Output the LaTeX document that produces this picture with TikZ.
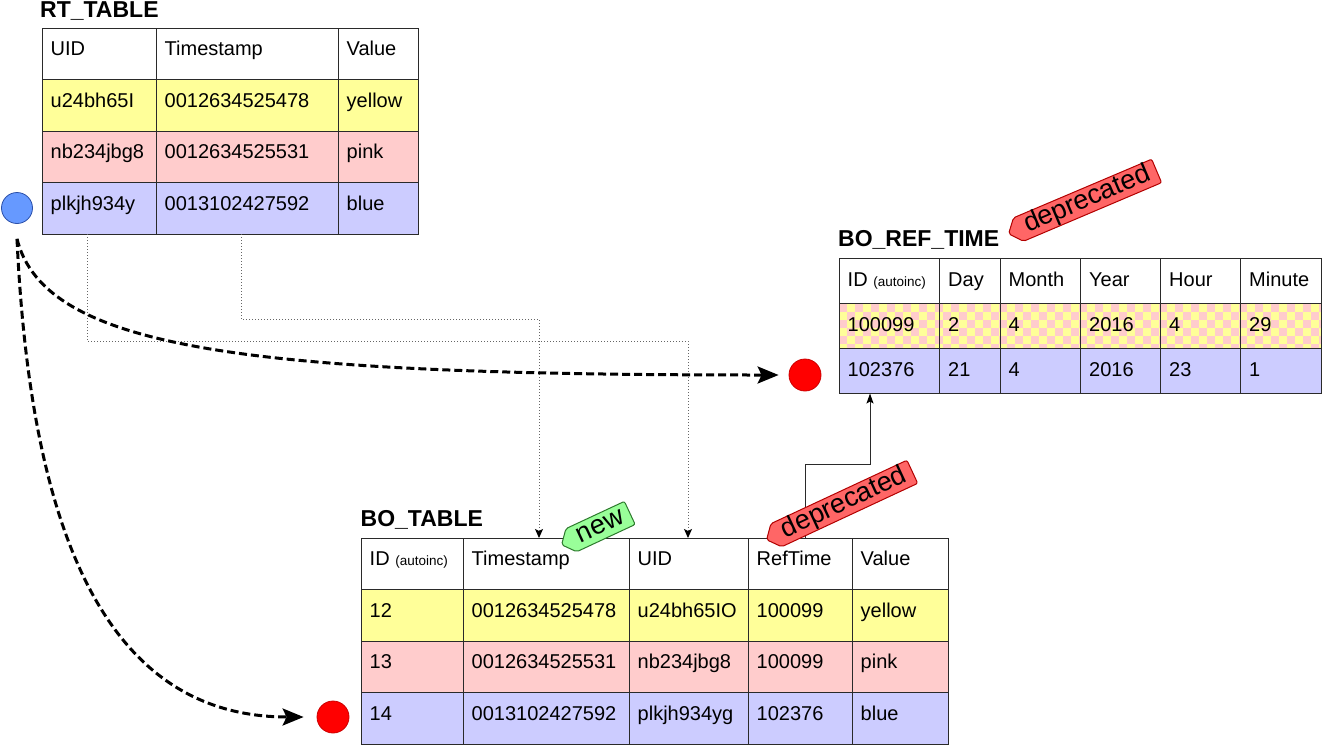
\documentclass[tikz,border=0pt]{standalone}
\usepackage{fontspec}
\setmainfont{Liberation Sans}
\usetikzlibrary{shapes.symbols,arrows.meta,calc}
\definecolor{rowyel}{HTML}{FFFF99}
\definecolor{rowpink}{HTML}{FFCCCC}
\definecolor{rowblue}{HTML}{CCCCFF}
\definecolor{tagred}{HTML}{FF6666}
\definecolor{tagredline}{HTML}{B20000}
\definecolor{taggreen}{HTML}{99FF99}
\definecolor{taggreenline}{HTML}{2D7A2D}
\definecolor{dotgray}{HTML}{666666}
\definecolor{circblue}{HTML}{6699FF}
\definecolor{circblueline}{HTML}{2A4FA8}
\definecolor{gridline}{HTML}{2A2A2A}
\newcommand\autoinc{{\fontsize{13.5}{16}\selectfont (autoinc)}}
\newcommand\tcell[7]{%
  \node[cellbox, fill=#6, minimum width=#4pt, minimum height=#5pt] (#1) at (#2,#3) {};
  \node[celltext] (#1t) at ([shift={(8.5,27.5)}]#1.north west) {#7};}
\tikzset{
  cellbox/.style={draw=gridline, line width=1pt, anchor=north west, inner sep=0pt, outer sep=0pt, rectangle},
  celltext/.style={anchor=base west, inner sep=0pt, font=\fontsize{20}{24}\selectfont},
  tabtitle/.style={anchor=base west, inner sep=0pt, font=\fontsize{23}{27}\selectfont\bfseries},
  tagbox/.style={shape=signal, signal to=west, signal pointer angle=100, rounded corners=2pt,
    line width=1pt, inner xsep=7.5pt, inner ysep=0pt, text height=19.5pt, text depth=6pt,
    anchor=west, font=\fontsize{27}{31}\selectfont},
  tagdep/.style={tagbox, fill=tagred, draw=tagredline},
  tagnew/.style={tagbox, fill=taggreen, draw=taggreenline},
  dot/.style={circle, inner sep=0pt, line width=0.8pt},
  bigdash/.style={line width=3pt, dash pattern=on 8pt off 4pt,
    -{Stealth[length=21pt,width=17pt,inset=4pt]}},
  dotline/.style={draw=dotgray, line width=1pt, dash pattern=on 1pt off 2pt,
    -{Stealth[length=9pt,width=8pt,inset=2pt,color=black]}},
  solidline/.style={draw=gridline, line width=1pt,
    -{Stealth[length=10pt,width=7pt,inset=2pt,color=black]}},
}
\begin{document}
\begin{tikzpicture}[x=1pt,y=-1pt]
\useasboundingbox (0,0) rectangle (1322,745);

% ---------- RT_TABLE ----------
\node[tabtitle] (rttitle) at (40,17) {RT\_TABLE};
\tcell{rt11}{42}{28}{114}{51.5}{white}{UID}
\tcell{rt12}{156}{28}{182}{51.5}{white}{Timestamp}
\tcell{rt13}{338}{28}{80}{51.5}{white}{Value}
\tcell{rt21}{42}{79.5}{114}{51.5}{rowyel}{u24bh65I}
\tcell{rt22}{156}{79.5}{182}{51.5}{rowyel}{0012634525478}
\tcell{rt23}{338}{79.5}{80}{51.5}{rowyel}{yellow}
\tcell{rt31}{42}{131}{114}{51.5}{rowpink}{nb234jbg8}
\tcell{rt32}{156}{131}{182}{51.5}{rowpink}{0012634525531}
\tcell{rt33}{338}{131}{80}{51.5}{rowpink}{pink}
\tcell{rt41}{42}{182.5}{114}{51.5}{rowblue}{plkjh934y}
\tcell{rt42}{156}{182.5}{182}{51.5}{rowblue}{0013102427592}
\tcell{rt43}{338}{182.5}{80}{51.5}{rowblue}{blue}

% ---------- BO_REF_TIME ----------
\node[tabtitle] (brtitle) at (838,246.5) {BO\_REF\_TIME};
\begin{scope}
  \clip (839,303.5) rectangle (1321,348.5);
  \fill[rowyel] (839,303.5) rectangle (1321,348.5);
  \foreach \i in {0,...,30} {
    \foreach \j in {0,1,2} {
      \fill[rowpink] ({839+16*\i},{303.5+16*\j}) rectangle +(8,8);
      \fill[rowpink] ({847+16*\i},{311.5+16*\j}) rectangle +(8,8);
    }
  }
\end{scope}
\tcell{br11}{839}{258.5}{100.5}{45}{white}{ID \autoinc}
\tcell{br12}{939.5}{258.5}{60.5}{45}{white}{Day}
\tcell{br13}{1000}{258.5}{80.5}{45}{white}{Month}
\tcell{br14}{1080.5}{258.5}{80}{45}{white}{Year}
\tcell{br15}{1160.5}{258.5}{80}{45}{white}{Hour}
\tcell{br16}{1240.5}{258.5}{80.5}{45}{white}{Minute}
\tcell{br21}{839}{303.5}{100.5}{45}{none}{100099}
\tcell{br22}{939.5}{303.5}{60.5}{45}{none}{2}
\tcell{br23}{1000}{303.5}{80.5}{45}{none}{4}
\tcell{br24}{1080.5}{303.5}{80}{45}{none}{2016}
\tcell{br25}{1160.5}{303.5}{80}{45}{none}{4}
\tcell{br26}{1240.5}{303.5}{80.5}{45}{none}{29}
\tcell{br31}{839}{348.5}{100.5}{45}{rowblue}{102376}
\tcell{br32}{939.5}{348.5}{60.5}{45}{rowblue}{21}
\tcell{br33}{1000}{348.5}{80.5}{45}{rowblue}{4}
\tcell{br34}{1080.5}{348.5}{80}{45}{rowblue}{2016}
\tcell{br35}{1160.5}{348.5}{80}{45}{rowblue}{23}
\tcell{br36}{1240.5}{348.5}{80.5}{45}{rowblue}{1}

% ---------- BO_TABLE ----------
\node[tabtitle] (botitle) at (360.5,526) {BO\_TABLE};
\tcell{bo11}{361}{538}{102}{51.5}{white}{ID \autoinc}
\tcell{bo12}{463}{538}{166}{51.5}{white}{Timestamp}
\tcell{bo13}{629}{538}{119}{51.5}{white}{UID}
\tcell{bo14}{748}{538}{104}{51.5}{white}{RefTime}
\tcell{bo15}{852}{538}{96}{51.5}{white}{Value}
\tcell{bo21}{361}{589.5}{102}{51.5}{rowyel}{12}
\tcell{bo22}{463}{589.5}{166}{51.5}{rowyel}{0012634525478}
\tcell{bo23}{629}{589.5}{119}{51.5}{rowyel}{u24bh65IO}
\tcell{bo24}{748}{589.5}{104}{51.5}{rowyel}{100099}
\tcell{bo25}{852}{589.5}{96}{51.5}{rowyel}{yellow}
\tcell{bo31}{361}{641}{102}{51.5}{rowpink}{13}
\tcell{bo32}{463}{641}{166}{51.5}{rowpink}{0012634525531}
\tcell{bo33}{629}{641}{119}{51.5}{rowpink}{nb234jbg8}
\tcell{bo34}{748}{641}{104}{51.5}{rowpink}{100099}
\tcell{bo35}{852}{641}{96}{51.5}{rowpink}{pink}
\tcell{bo41}{361}{692.5}{102}{51.5}{rowblue}{14}
\tcell{bo42}{463}{692.5}{166}{51.5}{rowblue}{0013102427592}
\tcell{bo43}{629}{692.5}{119}{51.5}{rowblue}{plkjh934yg}
\tcell{bo44}{748}{692.5}{104}{51.5}{rowblue}{102376}
\tcell{bo45}{852}{692.5}{96}{51.5}{rowblue}{blue}

% ---------- circles ----------
\node[dot, fill=circblue, draw=circblueline, minimum size=31pt] (src) at (17,208) {};
\node[dot, fill=red, draw=red!80!black, minimum size=32pt] (dstref) at (805,375) {};
\node[dot, fill=red, draw=red!80!black, minimum size=32pt] (dstbo) at (333,717) {};

% ---------- dotted mapping connectors ----------
\coordinate (uidA) at ([xshift=45pt]rt41.south west);
\coordinate (uidB) at ([xshift=59pt]bo13.north west);
\coordinate (tsA) at ([xshift=85pt]rt42.south west);
\coordinate (tsB) at ([xshift=76pt]bo12.north west);
\draw[dotline] (uidA) -- (uidA |- 0,341) -| (uidB);
\draw[dotline] (tsA) -- (tsA |- 0,319) -| (tsB);

% ---------- solid reference connector ----------
\coordinate (refA) at ([xshift=57pt]bo14.north west);
\coordinate (refB) at ([xshift=31pt]br31.south west);
\draw[solidline] (refA) -- (refA |- 0,464) -| (refB);

% ---------- thick dashed curves ----------
\coordinate (srcout) at ([yshift=-15pt]src.south);
\draw[bigdash, shorten >=10pt] (srcout) .. controls (45,350) and (250,375) .. (dstref.west);
\draw[bigdash, shorten >=13pt] (srcout) .. controls (30,520) and (100,717) .. (dstbo.west);

% ---------- tags ----------
\node[tagdep, rotate=23] (tagref) at (1008,234) {deprecated};
\node[tagnew, rotate=25] (tagnew) at (561,545) {new};
\node[tagdep, rotate=25] (tagbo) at (766,540) {deprecated};
\end{tikzpicture}
\end{document}
